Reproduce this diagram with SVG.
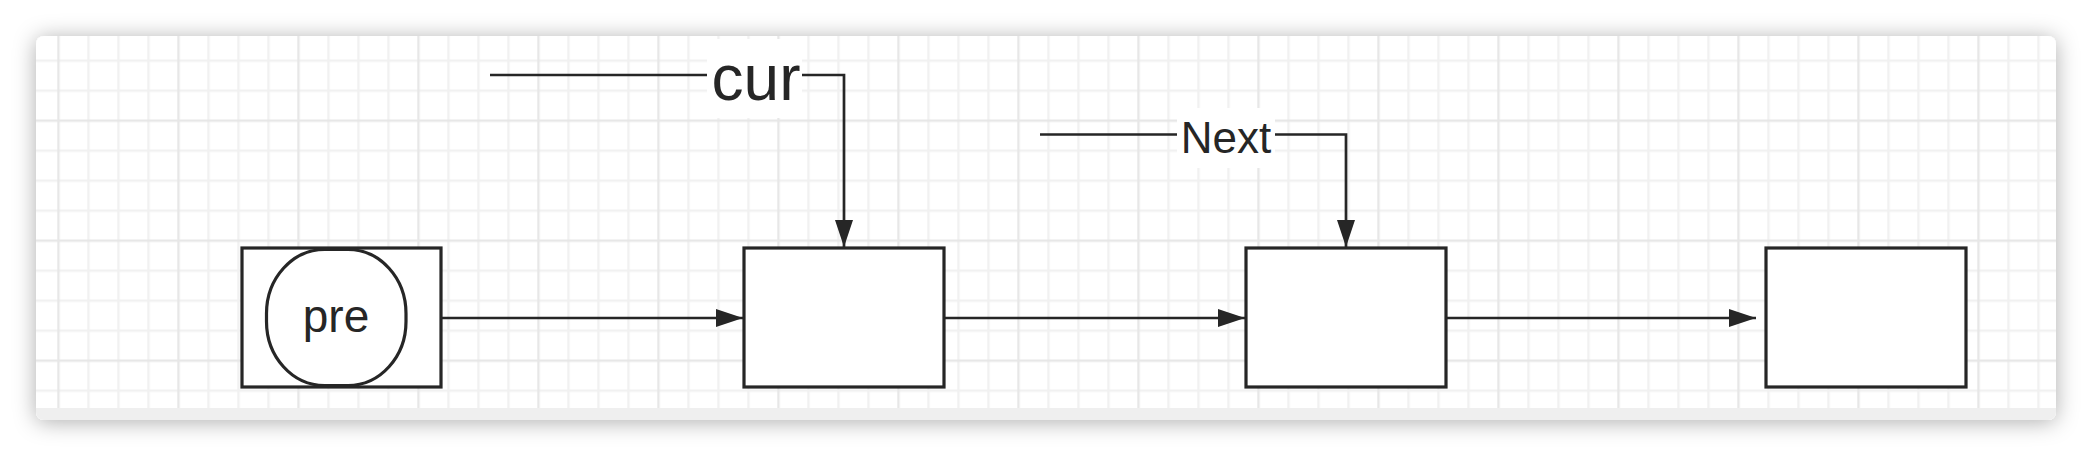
<svg xmlns="http://www.w3.org/2000/svg" width="2092" height="456" viewBox="0 0 2092 456">
  <style>
    .box { fill: #ffffff; stroke: #262626; stroke-width: 3.2; }
    .edge { fill: none; stroke: #262626; stroke-width: 2.7; }
    .lbl { font-family: "Liberation Sans", Arial, sans-serif; fill: #262626; text-anchor: middle; }
    .lblbg { fill: #ffffff; }
  </style>
  <defs>
    <filter id="shadow" x="-5%" y="-30%" width="110%" height="160%">
      <feDropShadow dx="0" dy="2" stdDeviation="11" flood-color="#000000" flood-opacity="0.32"/>
    </filter>
    <pattern id="grid" patternUnits="userSpaceOnUse" x="57.3" y="59.5" width="120" height="120">
      <rect x="30" y="0" width="2.4" height="120" fill="#f1f1f1"/>
      <rect x="60" y="0" width="2.4" height="120" fill="#f1f1f1"/>
      <rect x="90" y="0" width="2.4" height="120" fill="#f1f1f1"/>
      <rect x="0" y="0" width="120" height="2.4" fill="#f1f1f1"/>
      <rect x="0" y="30" width="120" height="2.4" fill="#f1f1f1"/>
      <rect x="0" y="90" width="120" height="2.4" fill="#f1f1f1"/>
      <rect x="0" y="60" width="120" height="2.4" fill="#e7e7e7"/>
      <rect x="0" y="0" width="2.4" height="120" fill="#e7e7e7"/>
    </pattern>
    <clipPath id="cardclip">
      <rect x="36" y="36" width="2020" height="384" rx="8" ry="8"/>
    </clipPath>
    <marker id="arrow" markerUnits="userSpaceOnUse" viewBox="0 0 27 18" refX="27" refY="9" markerWidth="27" markerHeight="18" orient="auto">
      <path d="M0,0 L27,9 L0,18 Z" fill="#262626"/>
    </marker>
  </defs>

  <rect x="0" y="0" width="2092" height="456" fill="#ffffff"/>

  <g id="card">
    <rect x="36" y="36" width="2020" height="384" rx="8" ry="8" fill="#ffffff" filter="url(#shadow)"/>
    <g clip-path="url(#cardclip)">
      <rect x="36" y="36" width="2020" height="372" fill="url(#grid)"/>
      <rect x="36" y="408" width="2020" height="12" fill="#efefef"/>
    </g>
  </g>

  <g id="connectors">
    <path class="edge" d="M441,318 H743" marker-end="url(#arrow)"/>
    <path class="edge" d="M944,318 H1245" marker-end="url(#arrow)"/>
    <path class="edge" d="M1446,318 H1756" marker-end="url(#arrow)"/>
    <path class="edge" d="M490,75 H844 V247" marker-end="url(#arrow)"/>
    <path class="edge" d="M1040,134.5 H1346 V247" marker-end="url(#arrow)"/>
    <g id="label-cur">
      <rect class="lblbg" x="707" y="39" width="95" height="79"/>
      <text class="lbl" x="756" y="100" font-size="64">cur</text>
    </g>
    <g id="label-next">
      <rect class="lblbg" x="1177" y="108" width="98" height="60"/>
      <text class="lbl" x="1226" y="153" font-size="44">Next</text>
    </g>
  </g>

  <g id="node-pre">
    <rect class="box" x="242" y="248" width="199" height="139"/>
    <rect class="box" x="266.5" y="249.5" width="139.5" height="136" rx="58" ry="64"/>
    <text class="lbl" x="336" y="332" font-size="46">pre</text>
  </g>
  <g id="node-cur">
    <rect class="box" x="744" y="248" width="200" height="139"/>
  </g>
  <g id="node-next">
    <rect class="box" x="1246" y="248" width="200" height="139"/>
  </g>
  <g id="node-last">
    <rect class="box" x="1766" y="248" width="200" height="139"/>
  </g>
</svg>
